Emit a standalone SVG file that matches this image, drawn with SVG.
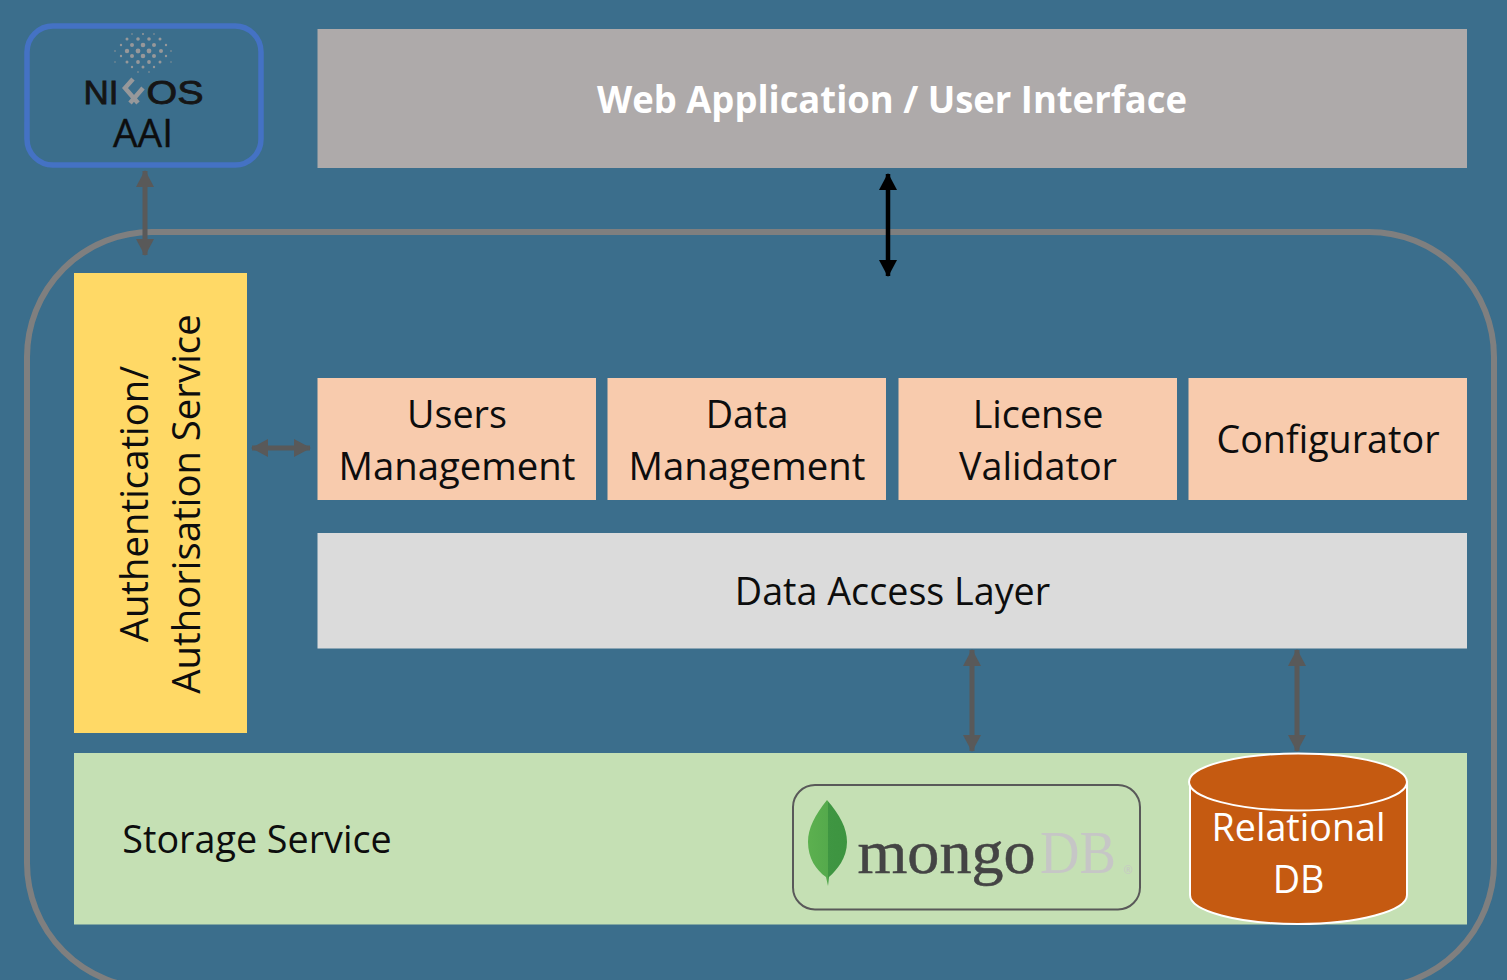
<svg xmlns="http://www.w3.org/2000/svg" width="1507" height="980" viewBox="0 0 1507 980">
<style>
text{font-family:"Open Sans","Noto Sans","Liberation Sans",sans-serif;text-anchor:middle;fill:#0d0d0d}
.l{font-size:38.300px}
.m{font-size:37.700px}
.w{fill:#fff}
.c{fill:none;stroke:#595959;stroke-width:5;marker-start:url(#a);marker-end:url(#a)}
.p{fill:#f8cbad}
.logo{font-family:"Liberation Sans",sans-serif;font-size:33px;fill:#151515;stroke:#151515;stroke-width:.8}
#dots circle{fill:#97989a}
</style>
<defs>
<marker id="a" markerUnits="userSpaceOnUse" markerWidth="18" markerHeight="18" refX="16" refY="9" orient="auto-start-reverse"><path d="M0 0L17 9L0 18Z" fill="#595959"/></marker>
<marker id="b" markerUnits="userSpaceOnUse" markerWidth="18" markerHeight="18" refX="16" refY="9" orient="auto-start-reverse"><path d="M0 0L17 9L0 18Z" fill="#000"/></marker>
<linearGradient id="g" x1="0" x2="1" y1="0" y2="0"><stop offset="0" stop-color="#5cb04f"/><stop offset=".5" stop-color="#55aa4c"/><stop offset=".5" stop-color="#3f9642"/><stop offset="1" stop-color="#3d9440"/></linearGradient>
</defs>
<rect width="1507" height="980" fill="#3b6e8c"/>
<rect x="27" y="232" width="1467" height="756" rx="125" fill="none" stroke="#7f7f7f" stroke-width="6"/>
<g id="aai">
<rect x="27" y="26" width="234" height="139" rx="26" fill="none" stroke="#4472c4" stroke-width="5.500"/>
<g id="dots">
<circle cx="132" cy="34" r=".8"/><circle cx="143" cy="34" r="1"/><circle cx="154" cy="34" r=".8"/>
<circle cx="127" cy="39" r="1.500"/><circle cx="138" cy="39" r="1.800"/><circle cx="149" cy="39" r="1.800"/><circle cx="160" cy="39" r="1.500"/>
<circle cx="121" cy="45" r="1.200"/><circle cx="132" cy="45" r="2"/><circle cx="143" cy="45" r="2.300"/><circle cx="154" cy="45" r="2"/><circle cx="166" cy="45" r="1.200"/>
<circle cx="115" cy="51" r=".8"/><circle cx="127" cy="51" r="2.200"/><circle cx="138" cy="51" r="2.400"/><circle cx="149" cy="51" r="2.400"/><circle cx="161" cy="51" r="2"/><circle cx="171" cy="51" r=".8"/>
<circle cx="121" cy="56" r="1.200"/><circle cx="132" cy="56" r="2"/><circle cx="143" cy="56" r="2.300"/><circle cx="154" cy="56" r="2"/><circle cx="166" cy="56" r="1.200"/>
<circle cx="115" cy="62" r=".7"/><circle cx="127" cy="62" r="1.500"/><circle cx="138" cy="62" r="1.900"/><circle cx="149" cy="62" r="1.900"/><circle cx="160" cy="62" r="1.500"/><circle cx="171" cy="62" r=".7"/>
<circle cx="132" cy="67" r="1.200"/><circle cx="143" cy="67" r="1.500"/><circle cx="154" cy="67" r="1.200"/>
<circle cx="138" cy="72" r=".8"/><circle cx="149" cy="72" r=".8"/>
</g>
<text x="101" y="104" class="logo" textLength="35" lengthAdjust="spacingAndGlyphs">NI</text>
<path d="M133 79L125 88L138 103M143 88L130 103" fill="none" stroke="#97989a" stroke-width="4.500"/>
<text x="175" y="104" class="logo" textLength="57" lengthAdjust="spacingAndGlyphs">OS</text>
<text x="143" y="147" style="font-size:38.300px;stroke:#0d0d0d;stroke-width:.4" textLength="60" lengthAdjust="spacingAndGlyphs">AAI</text>
</g>
<g id="webapp">
<rect x="317.500" y="29" width="1149.500" height="139" fill="#aeaaaa"/>
<text x="892" y="113" class="w" style="font-size:37px;font-weight:700" textLength="590" lengthAdjust="spacingAndGlyphs">Web Application / User Interface</text>
</g>
<g id="auth">
<rect x="74" y="273" width="173" height="460" fill="#ffd966"/>
<text transform="translate(148 504) rotate(-90)" class="l"><tspan x="0" y="0">Authentication/</tspan><tspan x="0" y="52">Authorisation Service</tspan></text>
</g>
<g id="users"><rect class="p" x="317.500" y="378" width="278.500" height="122"/><text class="m" x="457" y="427.500">Users</text><text class="l" x="457" y="479.500">Management</text></g>
<g id="data"><rect class="p" x="607.500" y="378" width="278.500" height="122"/><text class="m" x="747" y="427.500">Data</text><text class="l" x="747" y="479.500">Management</text></g>
<g id="license"><rect class="p" x="898.500" y="378" width="278.500" height="122"/><text class="m" x="1038" y="427.500">License</text><text class="m" x="1038" y="479.500">Validator</text></g>
<g id="configurator"><rect class="p" x="1188.500" y="378" width="278.500" height="122"/><text class="m" x="1328" y="453">Configurator</text></g>
<g id="dal"><rect x="317.500" y="533" width="1149.500" height="115.500" fill="#dbdbdb"/><text class="m" x="892.500" y="605">Data Access Layer</text></g>
<g id="storage">
<rect x="74" y="753" width="1393" height="171.500" fill="#c5e0b4"/>
<text class="m" x="257" y="852.500">Storage Service</text>
</g>
<g id="mongodb">
<rect x="793" y="785" width="347" height="124.500" rx="22" fill="none" stroke="#595959" stroke-width="2"/>
<path d="M827 800C840 815 847 828 847 842C847 858 837 870 829 877L828 886L826 877C816 870 808 858 808 842C808 828 815 815 827 800Z" fill="url(#g)"/>
<text x="946.500" y="873" style="font-family:'Liberation Serif',serif;font-size:61px;fill:#444;stroke:#444;stroke-width:.5" textLength="178" lengthAdjust="spacingAndGlyphs">mongo</text>
<text x="1078" y="873" style="font-family:'Liberation Serif',serif;font-size:61px;fill:#c6c6c6" textLength="76" lengthAdjust="spacingAndGlyphs">DB</text>
<text x="1128" y="874" style="font-size:11px;fill:#c6c6c6">®</text>
</g>
<g id="relational">
<path d="M1190 782V895C1190 911 1238 924 1298 924C1358 924 1407 911 1407 895V782Z" fill="#c55a11" stroke="#fff" stroke-width="2"/>
<ellipse cx="1298" cy="782" rx="109" ry="28.500" fill="#c55a11" stroke="#fff" stroke-width="2"/>
<text class="m w" x="1298.500" y="841">Relational</text>
<text class="m w" x="1298.500" y="893">DB</text>
</g>
<g id="connectors">
<path class="c" d="M145 171V255"/>
<path d="M888 174V276" fill="none" stroke="#000" stroke-width="4.500" marker-start="url(#b)" marker-end="url(#b)"/>
<path class="c" d="M252 448H310"/>
<path class="c" d="M972 650V751"/>
<path class="c" d="M1297 650V751"/>
</g>
</svg>
